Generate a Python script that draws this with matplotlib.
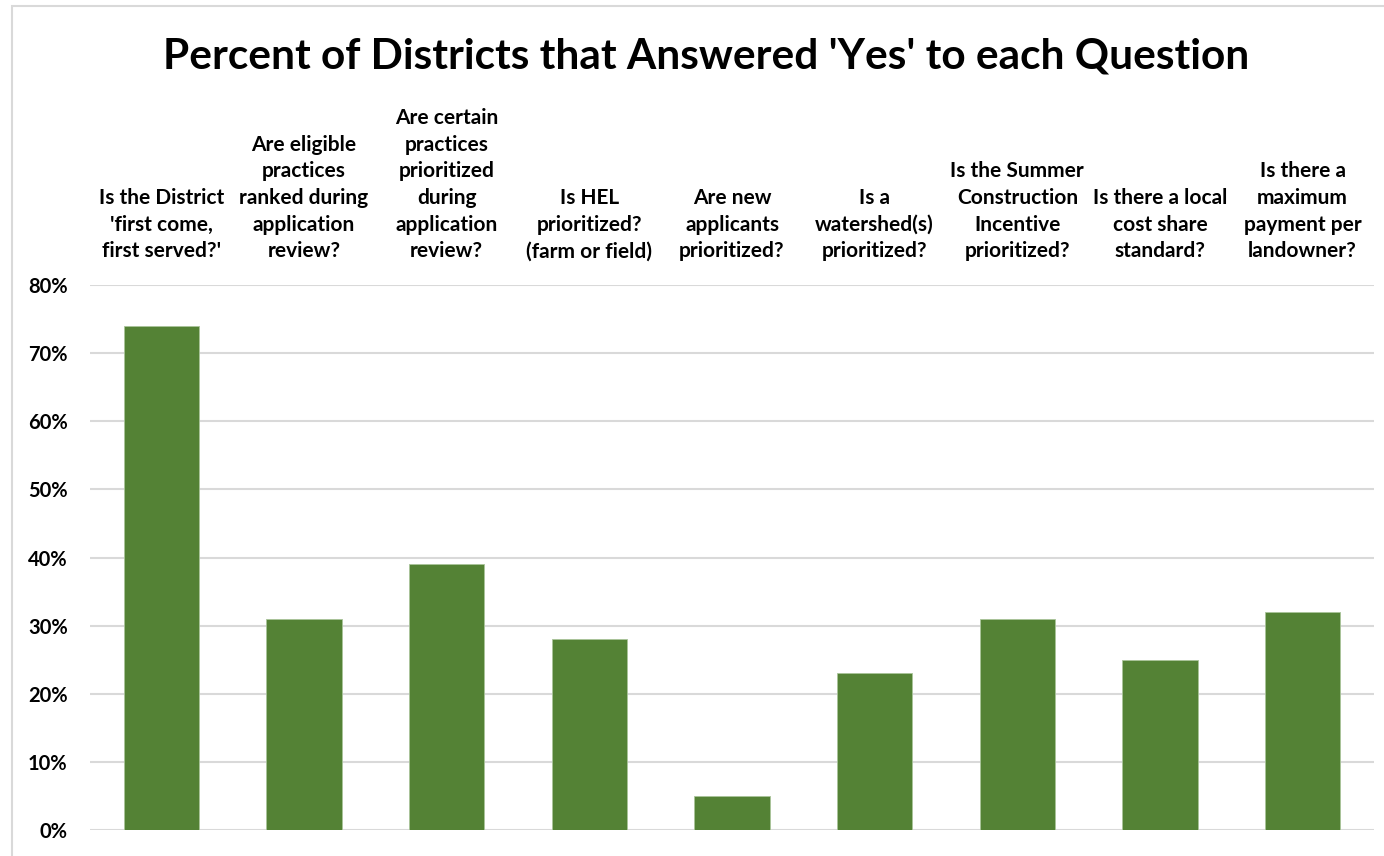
import matplotlib
matplotlib.use("Agg")
import matplotlib.pyplot as plt
from matplotlib.patches import Rectangle

categories = [
    "Is the District\n'first come,\nfirst served?'",
    "Are eligible\npractices\nranked during\napplication\nreview?",
    "Are certain\npractices\nprioritized\nduring\napplication\nreview?",
    "Is HEL\nprioritized?\n(farm or field)",
    "Are new\napplicants\nprioritized?",
    "Is a\nwatershed(s)\nprioritized?",
    "Is the Summer\nConstruction\nIncentive\nprioritized?",
    "Is there a local\ncost share\nstandard?",
    "Is there a\nmaximum\npayment per\nlandowner?",
]
values = [74, 31, 39, 28, 5, 23, 31, 25, 32]
yticks = [0, 10, 20, 30, 40, 50, 60, 70, 80]
ytick_labels = [f"{v}%" for v in yticks]
title = "Percent of Districts that Answered 'Yes' to each Question"

plt.rcParams['font.family'] = ['Lato', 'DejaVu Sans']

fig = plt.figure(figsize=(13.84, 8.56), dpi=100)
fig.patches.append(Rectangle((12/1384, -0.1), 1.2, 1.1 - 6/856, transform=fig.transFigure,
                             fill=False, edgecolor='#d9d9d9', linewidth=1.5))
ax = fig.add_axes([90/1384, 1-830/856, (1374-90)/1384, (830-285)/856])

x = list(range(len(values)))
ax.bar(x, values, width=0.53, color='#548235', edgecolor='#a9c49a', linewidth=0.6, zorder=3)
ax.set_xlim(-0.5, len(values) - 0.5)
ax.set_ylim(0, 80)
ax.set_yticks(yticks)
ax.set_yticklabels(ytick_labels, fontsize=14.5, fontweight='bold')
ax.grid(axis='y', color='#d9d9d9', linewidth=1.5, zorder=0)
for s in ax.spines.values():
    s.set_visible(False)
ax.tick_params(axis='y', length=0, pad=16)
ax.xaxis.tick_top()
ax.set_xticks(x)
ax.set_xticklabels(categories, fontsize=15, fontweight='bold', linespacing=1.42)
ax.tick_params(axis='x', length=0, pad=17)

fig.text(706/1384, 1-56/856, title, ha='center', va='center', fontsize=30.5, fontweight='bold')

fig.savefig("out.png", dpi=100)
